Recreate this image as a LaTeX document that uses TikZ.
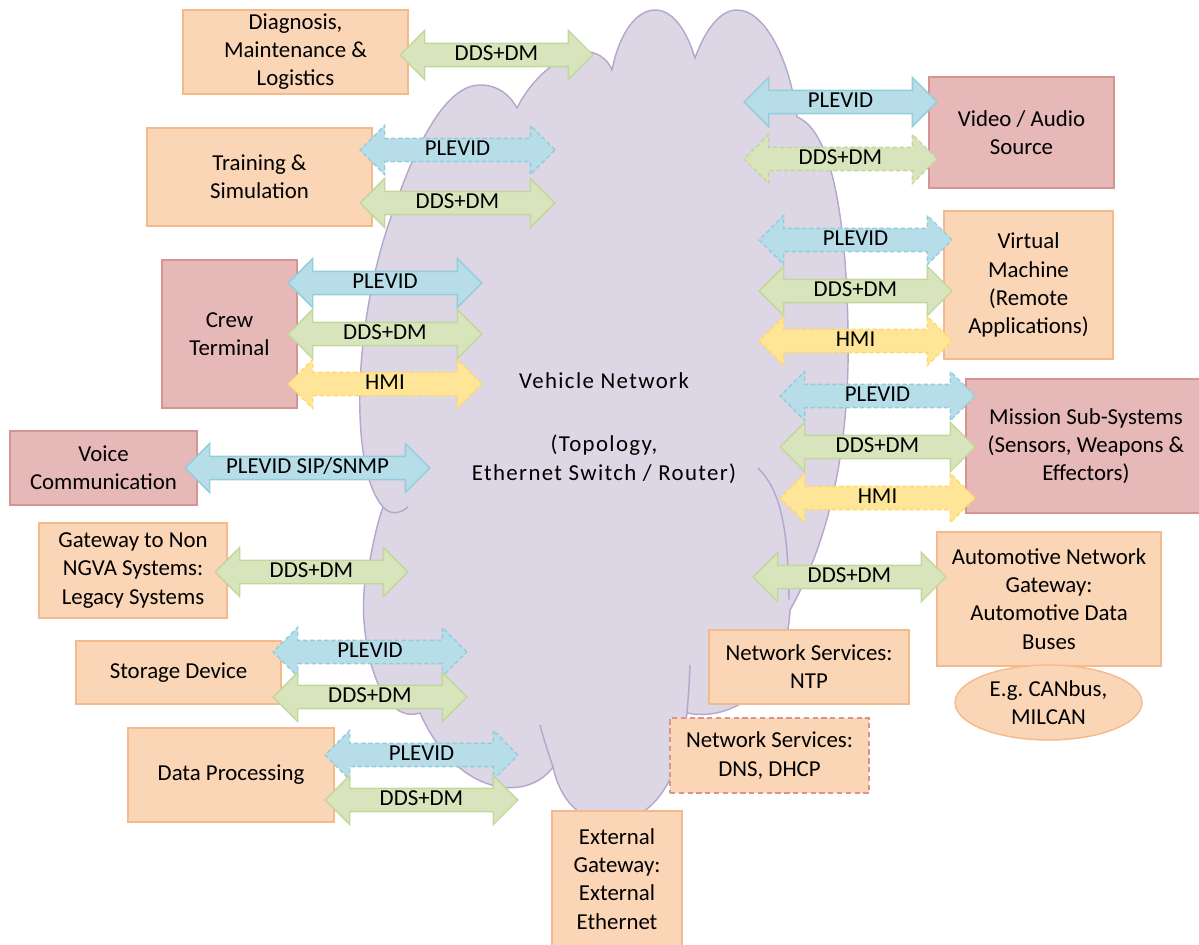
\documentclass[tikz,border=0pt]{standalone}
\usepackage{fontspec}
\setmainfont{Carlito}
\newfontfamily\netfont[LetterSpace=6]{Carlito}
\usepackage{tikz}
\usetikzlibrary{shapes,shapes.arrows,shapes.geometric,positioning,calc}

\definecolor{peachfill}{HTML}{FAD5B6}
\definecolor{peachline}{HTML}{F5BA8C}
\definecolor{pinkfill}{HTML}{E6B8B7}
\definecolor{pinkline}{HTML}{D79592}
\definecolor{bluefill}{HTML}{B6DDE8}
\definecolor{blueline}{HTML}{92CDDC}
\definecolor{greenfill}{HTML}{D7E4BC}
\definecolor{greenline}{HTML}{C3D69B}
\definecolor{yellowfill}{HTML}{FFE597}
\definecolor{yellowline}{HTML}{FFD966}
\definecolor{cloudfill}{HTML}{DCD6E5}
\definecolor{cloudline}{HTML}{B5A6CB}

\begin{document}
\begin{tikzpicture}[x=0.02cm, y=-0.02cm,
    every node/.append style={font=\fontsize{13}{16}\selectfont, text=black},
    box/.style={rectangle, line width=0.8pt, align=center, inner sep=0pt},
    peach/.style={box, fill=peachfill, draw=peachline},
    pink/.style={box, fill=pinkfill, draw=pinkline},
    link/.style={double arrow, double arrow head extend=0.26cm, double arrow tip angle=90,
      inner xsep=0pt, inner ysep=0.75pt, text height=8.5pt, text depth=2.5pt, line width=0.8pt},
    plevid/.style={link, fill=bluefill, draw=blueline},
    ddsdm/.style={link, fill=greenfill, draw=greenline},
    hmi/.style={link, fill=yellowfill, draw=yellowline},
    opt/.style={dash pattern=on 2.5pt off 1.5pt},
    crease/.style={draw=cloudline, line width=0.8pt}]
    \useasboundingbox (0,0) rectangle (1199,945);

    % vehicle network cloud
    \path[fill=cloudfill, draw=cloudline, line width=0.8pt]
      (383,507) .. controls (350,470) and (352,330) .. (390,220)
      .. controls (420,130) and (450,85) .. (480,85)
      .. controls (498,85) and (510,95) .. (517,108)
      .. controls (535,72) and (568,50) .. (590,52)
      .. controls (600,54) and (608,60) .. (612,70)
      .. controls (620,30) and (638,10) .. (655,10)
      .. controls (675,10) and (688,35) .. (695,58)
      .. controls (705,30) and (720,10) .. (737,10)
      .. controls (765,10) and (790,60) .. (797,117)
      .. controls (830,130) and (846,210) .. (848,330)
      .. controls (850,430) and (835,530) .. (790,610)
      .. controls (786,690) and (730,722) .. (687,713)
      .. controls (680,790) and (645,822) .. (612,822)
      .. controls (580,822) and (560,800) .. (553,767)
      .. controls (528,802) and (458,798) .. (420,713)
      .. controls (372,728) and (352,610) .. (370,560)
      .. controls (375,532) and (380,515) .. (383,507) -- cycle;
    \path[crease] (383,507) .. controls (390,515) and (400,514) .. (408,507);
    \path[crease] (758,468) .. controls (780,490) and (788,525) .. (789,600);
    \path[crease] (690,665) .. controls (689,690) and (688,700) .. (687,713);
    \path[crease] (540,725) .. controls (544,740) and (548,752) .. (553,767);
    \node (Network) [font=\netfont\fontsize{13}{16}\selectfont, align=center] at (604,428)
      {Vehicle Network\\[20pt](Topology,\\Ethernet Switch / Router)};

    % systems left
    \node (Diagnosis) [peach, minimum width=4.5cm, minimum height=1.68cm] at (295.5,52) {Diagnosis,\\Maintenance \&\\Logistics};
    \node (Training) [peach, minimum width=4.5cm, minimum height=1.96cm] at (259.5,177) {Training \&\\Simulation};
    \node (Crew) [pink, minimum width=2.7cm, minimum height=2.96cm] at (229.5,334) {Crew\\Terminal};
    \node (Voice) [pink, minimum width=3.74cm, minimum height=1.48cm] at (103.5,468) {Voice\\Communication};
    \node (Gateway) [peach, minimum width=3.76cm, minimum height=1.9cm] at (133,570.5) {Gateway to Non\\NGVA Systems:\\Legacy Systems};
    \node (Storage) [peach, minimum width=4.1cm, minimum height=1.26cm] at (178.5,672.5) {Storage Device};
    \node (Processing) [peach, minimum width=4.12cm, minimum height=1.88cm] at (231,775) {Data Processing};

    % systems right and below
    \node (Video) [pink, minimum width=3.7cm, minimum height=2.22cm] at (1021.5,132.5) {Video / Audio\\Source};
    \node (Virtual) [peach, minimum width=3.38cm, minimum height=2.96cm] at (1028.5,285) {Virtual\\Machine\\(Remote\\Applications)};
    \node (Mission) [pink, minimum width=4.8cm, minimum height=2.68cm] at (1086,446) {Mission Sub-Systems\\(Sensors, Weapons \&\\Effectors)};
    \node (Automotive) [peach, minimum width=4.48cm, minimum height=2.68cm] at (1049,599) {Automotive Network\\Gateway:\\Automotive Data\\Buses};
    \node (Buses) [ellipse, fill=peachfill, draw=peachline, line width=0.8pt, inner sep=0pt, align=center,
      minimum width=3.74cm, minimum height=1.5cm] at (1048.5,702.5) {E.g.\ CANbus,\\MILCAN};
    \node (NTP) [peach, minimum width=4cm, minimum height=1.48cm] at (809,667) {Network Services:\\NTP};
    \node (DNS) [peach, draw=pinkline, opt, dash pattern=on 3pt off 2pt, minimum width=3.98cm, minimum height=1.5cm] at (769.5,755.5) {Network Services:\\DNS, DHCP};
    \node (External) [peach, minimum width=2.6cm, minimum height=2.72cm] at (617,879) {External\\Gateway:\\External\\Ethernet};

    % links
    \node (DiagnosisDDS) [ddsdm, minimum height=3.86cm] at (496.5,55) {DDS+DM};
    \node (TrainingPLEVID) [plevid, opt, minimum height=3.9cm] at (457.5,150) {PLEVID};
    \node (TrainingDDS) [ddsdm, minimum height=3.9cm] at (457.5,203) {DDS+DM};
    \node (CrewPLEVID) [plevid, minimum height=3.88cm] at (385,283) {PLEVID};
    \node (CrewDDS) [ddsdm, minimum height=3.88cm] at (385,334) {DDS+DM};
    \node (CrewHMI) [hmi, opt, minimum height=3.88cm] at (385,384) {HMI};
    \node (VoicePLEVID) [plevid, minimum height=4.9cm] at (307.5,468) {PLEVID SIP/SNMP};
    \node (GatewayDDS) [ddsdm, minimum height=3.86cm] at (311.5,572) {DDS+DM};
    \node (StoragePLEVID) [plevid, opt, minimum height=3.88cm] at (370,652) {PLEVID};
    \node (StorageDDS) [ddsdm, minimum height=3.88cm] at (370,697) {DDS+DM};
    \node (ProcessingPLEVID) [plevid, opt, minimum height=3.86cm] at (421.5,755) {PLEVID};
    \node (ProcessingDDS) [ddsdm, minimum height=3.86cm] at (421.5,800) {DDS+DM};
    \node (VideoPLEVID) [plevid, minimum height=3.86cm] at (840.5,102) {PLEVID};
    \node (VideoDDS) [ddsdm, opt, minimum height=3.86cm] at (840.5,159) {DDS+DM};
    \node (VirtualPLEVID) [plevid, opt, minimum height=3.86cm] at (855.5,240) {PLEVID};
    \node (VirtualDDS) [ddsdm, minimum height=3.86cm] at (855.5,291) {DDS+DM};
    \node (VirtualHMI) [hmi, opt, minimum height=3.86cm] at (855.5,341) {HMI};
    \node (MissionPLEVID) [plevid, opt, minimum height=3.9cm] at (877.5,396) {PLEVID};
    \node (MissionDDS) [ddsdm, minimum height=3.9cm] at (877.5,447) {DDS+DM};
    \node (MissionHMI) [hmi, opt, minimum height=3.9cm] at (877.5,498) {HMI};
    \node (AutomotiveDDS) [ddsdm, minimum height=3.86cm] at (849.5,577) {DDS+DM};
\end{tikzpicture}
\end{document}
